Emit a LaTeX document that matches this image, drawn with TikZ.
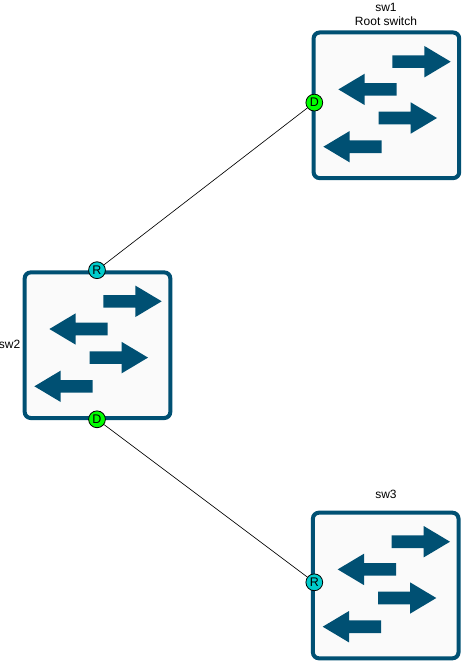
\documentclass[tikz,border=0pt]{standalone}
\usepackage{fontspec}
\setmainfont{Liberation Sans}
\definecolor{swblue}{HTML}{005073}
\definecolor{swfill}{HTML}{FAFAFA}
\definecolor{portroot}{HTML}{00CCCC}
\definecolor{portdes}{HTML}{00FF00}
\tikzset{
  switchbox/.style={draw=swblue,fill=swfill,line width=4pt,rounded corners=6pt,minimum width=145.6pt,minimum height=145.6pt,inner sep=0pt,outer sep=0pt},
  flow/.style={fill=swblue,draw=none},
  port/.style={circle,draw=black,line width=0.8pt,minimum size=16.8pt,inner sep=0pt,font=\fontsize{12.5pt}{12.5pt}\selectfont},
  rootport/.style={port,fill=portroot},
  desport/.style={port,fill=portdes},
  lbl/.style={font=\fontsize{12pt}{14pt}\selectfont,align=center,inner sep=0pt},
  link/.style={draw=black,line width=0.65pt}
}
\newcommand{\swarrows}[2]{%
  \begin{scope}[shift={(#1,#2)}]
    \fill[flow] (80.7,24.7) -- (112.7,24.7) -- (112.7,15.3) -- (139,31) -- (112.7,46.7) -- (112.7,37.3) -- (80.7,37.3) -- cycle;
    \fill[flow] (85,52.4) -- (53,52.4) -- (53,43) -- (26.7,58.7) -- (53,74.4) -- (53,65) -- (85,65) -- cycle;
    \fill[flow] (67,81) -- (99,81) -- (99,71.6) -- (125.3,87.3) -- (99,103) -- (99,93.6) -- (67,93.6) -- cycle;
    \fill[flow] (70,109.7) -- (38,109.7) -- (38,100.3) -- (11.7,116) -- (38,131.7) -- (38,122.3) -- (70,122.3) -- cycle;
  \end{scope}}
\begin{document}
\begin{tikzpicture}[x=1pt,y=-1pt]
  \useasboundingbox (0,0) rectangle (462,661);
  \fill[white] (0,0) rectangle (462,661);
  \node[switchbox] (sw1) at (386.4,105.3) {};
  \node[switchbox] (sw2) at (97.5,345.2) {};
  \node[switchbox] (sw3) at (385.7,585.5) {};
  \swarrows{311.7}{30.7}
  \swarrows{22.7}{270.3}
  \swarrows{311}{510.7}
  \node[lbl] (sw1label) at (386,14) {sw1\\Root switch};
  \node[lbl,anchor=east] (sw2label) at (20.5,344) {sw2};
  \node[lbl] (sw3label) at (386,494) {sw3};
  \node[desport] (p1) at (314.3,102.6) {D};
  \node[rootport] (p2) at (97,270.2) {R};
  \node[desport] (p3) at (97,419.3) {D};
  \node[rootport] (p4) at (314.3,582.3) {R};
  \draw[link] (p1) -- (p2);
  \draw[link] (p3) -- (p4);
\end{tikzpicture}
\end{document}
